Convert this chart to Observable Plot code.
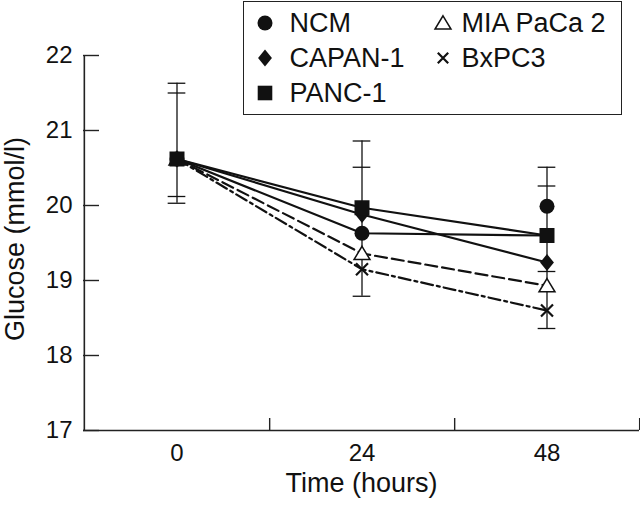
<!DOCTYPE html>
<html><head><meta charset="utf-8">
<script src="https://cdn.jsdelivr.net/npm/d3@7"></script>
<script src="https://cdn.jsdelivr.net/npm/@observablehq/plot@0.6"></script>
<style>
body{margin:0;background:#fff;font-family:"Liberation Sans",Arial,sans-serif;}
#wrap{position:relative;width:640px;height:507px;overflow:hidden;color:#111}
#wrap > svg{position:absolute;left:0;top:0}
#legend{position:absolute;left:243px;top:1px;width:377px;height:112px;border:1.5px solid #222;background:#fff}
.item{position:absolute;display:flex;align-items:center;height:30px;font-size:27px;color:#111;white-space:nowrap;line-height:30px}
#wrap .item svg{position:static;flex:none}
</style></head><body><div id="wrap"></div>
<script>
// ---- data ----
const times = ["0", "24", "48"];
const yTicks = [17, 18, 19, 20, 21, 22];
const xTitle = "Time (hours)";
const yTitle = "Glucose (mmol/l)";
const seriesNames = ["NCM", "CAPAN-1", "PANC-1", "MIA PaCa 2", "BxPC3"];
const ncm = [20.62, 19.63, 19.99];
const ncmLine = [20.62, 19.63, 19.60];
const capan1 = [20.62, 19.88, 19.24];
const panc1 = [20.62, 19.97, 19.60];
const miaPaCa2 = [20.62, 19.36, 18.93];
const bxpc3 = [20.62, 19.15, 18.60];
const capTimes = ["0", "0", "0", "0", "24", "24", "24", "48", "48", "48", "48"];
const capValues = [21.63, 21.50, 20.12, 20.03, 20.86, 20.51, 18.79, 20.51, 20.26, 19.12, 18.36];

// ---- layout ----
const W = 640, H = 507, mL = 83, mR = 1, mT = 55, mB = 77;
const bw = (W - mL - mR) / times.length;
const ink = "#111";

const R = s => Math.sqrt(s / Math.PI);
const sym = {
  circle: {draw(c, s) { const r = R(s); c.moveTo(r, 0); c.arc(0, 0, r, 0, 2 * Math.PI); }},
  square: {draw(c, s) { const r = R(s); c.rect(-r, -r, 2 * r, 2 * r); }},
  diamond: {draw(c, s) { const r = R(s); c.moveTo(0, -1.15 * r); c.lineTo(0.95 * r, 0); c.lineTo(0, 1.15 * r); c.lineTo(-0.95 * r, 0); c.closePath(); }},
  triangle: {draw(c, s) { const r = R(s); c.moveTo(0, -0.95 * r); c.lineTo(1.05 * r, 0.8 * r); c.lineTo(-1.05 * r, 0.8 * r); c.closePath(); }},
  cross: {draw(c, s) { const r = R(s); c.moveTo(-r, -r); c.lineTo(r, r); c.moveTo(r, -r); c.lineTo(-r, r); }}
};

const series = [
  {name: seriesNames[0], pts: ncm, line: ncmLine, symbol: sym.circle, r: 7.5, lr: 7.5, fill: ink, stroke: "none", sw: 0, dash: null},
  {name: seriesNames[1], pts: capan1, line: capan1, symbol: sym.diamond, r: 7.3, lr: 7.3, fill: ink, stroke: "none", sw: 0, dash: null},
  {name: seriesNames[2], pts: panc1, line: panc1, symbol: sym.square, r: 7.5, lr: 7.3, fill: ink, stroke: "none", sw: 0, dash: null},
  {name: seriesNames[3], pts: miaPaCa2, line: miaPaCa2, symbol: sym.triangle, r: 7.6, lr: 7.6, fill: "white", stroke: ink, sw: 1.5, dash: "12,5"},
  {name: seriesNames[4], pts: bxpc3, line: bxpc3, symbol: sym.cross, r: 6, lr: 5.2, fill: "none", stroke: ink, sw: 2.2, dash: "12,4,3,4"}
];

const capRows = capTimes.map((t, i) => ({t, v: capValues[i]}));
const errRows = times.map(t => {
  const vs = capRows.filter(d => d.t === t).map(d => d.v);
  return {t, lo: d3.min(vs), hi: d3.max(vs)};
});

const lineMarks = series.map(s => Plot.line(times.map((t, i) => ({t, v: s.line[i]})),
  {x: "t", y: "v", stroke: ink, strokeWidth: 2.2, strokeDasharray: s.dash || undefined}));
const drawOrder = [0, 1, 3, 4, 2];
const dotMarks = drawOrder.map(k => {
  const s = series[k];
  return Plot.dot(times.map((t, i) => ({t, v: s.pts[i]})),
    {x: "t", y: "v", symbol: s.symbol, r: s.r, fill: s.fill, stroke: s.stroke, strokeWidth: s.sw});
});

const chart = Plot.plot({
  width: W, height: H,
  marginLeft: mL, marginRight: mR, marginTop: mT, marginBottom: mB,
  style: {fontFamily: '"Liberation Sans", Arial, sans-serif', color: ink, background: "white", overflow: "visible"},
  x: {type: "band", domain: times, paddingInner: 0, paddingOuter: 0, axis: null},
  y: {domain: [yTicks[0], yTicks[yTicks.length - 1]], axis: null},
  marks: [
    // axes frame
    Plot.ruleY([yTicks[0]], {stroke: "#222", strokeWidth: 1.6}),
    Plot.ruleX([times[0]], {dx: -bw / 2, stroke: "#222", strokeWidth: 1.6}),
    Plot.ruleY(yTicks, {insetRight: W - mL - mR - 16, stroke: "#222", strokeWidth: 1.4}),
    Plot.ruleX(times, {dx: bw / 2, insetTop: H - mT - mB - 12, stroke: "#222", strokeWidth: 1.4}),
    Plot.axisY({ticks: yTicks, tickSize: 0, tickPadding: 11, label: null, fontSize: 24, tickFormat: d => String(d)}),
    Plot.axisX({tickSize: 0, tickPadding: 13, label: null, fontSize: 24}),
    Plot.text([xTitle], {frameAnchor: "bottom", dy: 61, fontSize: 27, fill: ink}),
    Plot.text([yTitle], {frameAnchor: "left", textAnchor: "middle", lineAnchor: "middle", rotate: -90, dx: -68, dy: -4, fontSize: 27, fill: ink}),
    // error bars
    Plot.ruleX(errRows, {x: "t", y1: "lo", y2: "hi", stroke: ink, strokeWidth: 1.3}),
    Plot.tickY(capRows, {x: "t", y: "v", insetLeft: (bw - 18) / 2, insetRight: (bw - 18) / 2, stroke: ink, strokeWidth: 1.3}),
    ...lineMarks,
    ...dotMarks
  ]
});

const wrap = document.getElementById("wrap");
wrap.appendChild(chart);

// ---- legend ----
const legend = document.createElement("div");
legend.id = "legend";
const colSym = [20.5, 198.5], colText = [45.5, 217.5], rowY = [20.5, 55.5, 90.5];
series.forEach((s, idx) => {
  const col = idx < 3 ? 0 : 1, row = idx < 3 ? idx : idx - 3;
  const item = document.createElement("div");
  item.className = "item";
  item.style.left = (colSym[col] - 10) + "px";
  item.style.top = (rowY[row] - 15) + "px";
  const svg = d3.create("svg").attr("width", 20).attr("height", 20);
  const p = d3.path();
  s.symbol.draw(p, Math.PI * s.lr ** 2);
  svg.append("path").attr("transform", "translate(10,10)").attr("d", p.toString())
    .attr("fill", s.fill).attr("stroke", s.stroke === "none" ? null : s.stroke).attr("stroke-width", s.sw || null);
  item.appendChild(svg.node());
  const span = document.createElement("span");
  span.textContent = s.name;
  span.style.marginLeft = (colText[col] - colSym[col] - 10) + "px";
  item.appendChild(span);
  legend.appendChild(item);
});
wrap.appendChild(legend);
</script></body></html>
